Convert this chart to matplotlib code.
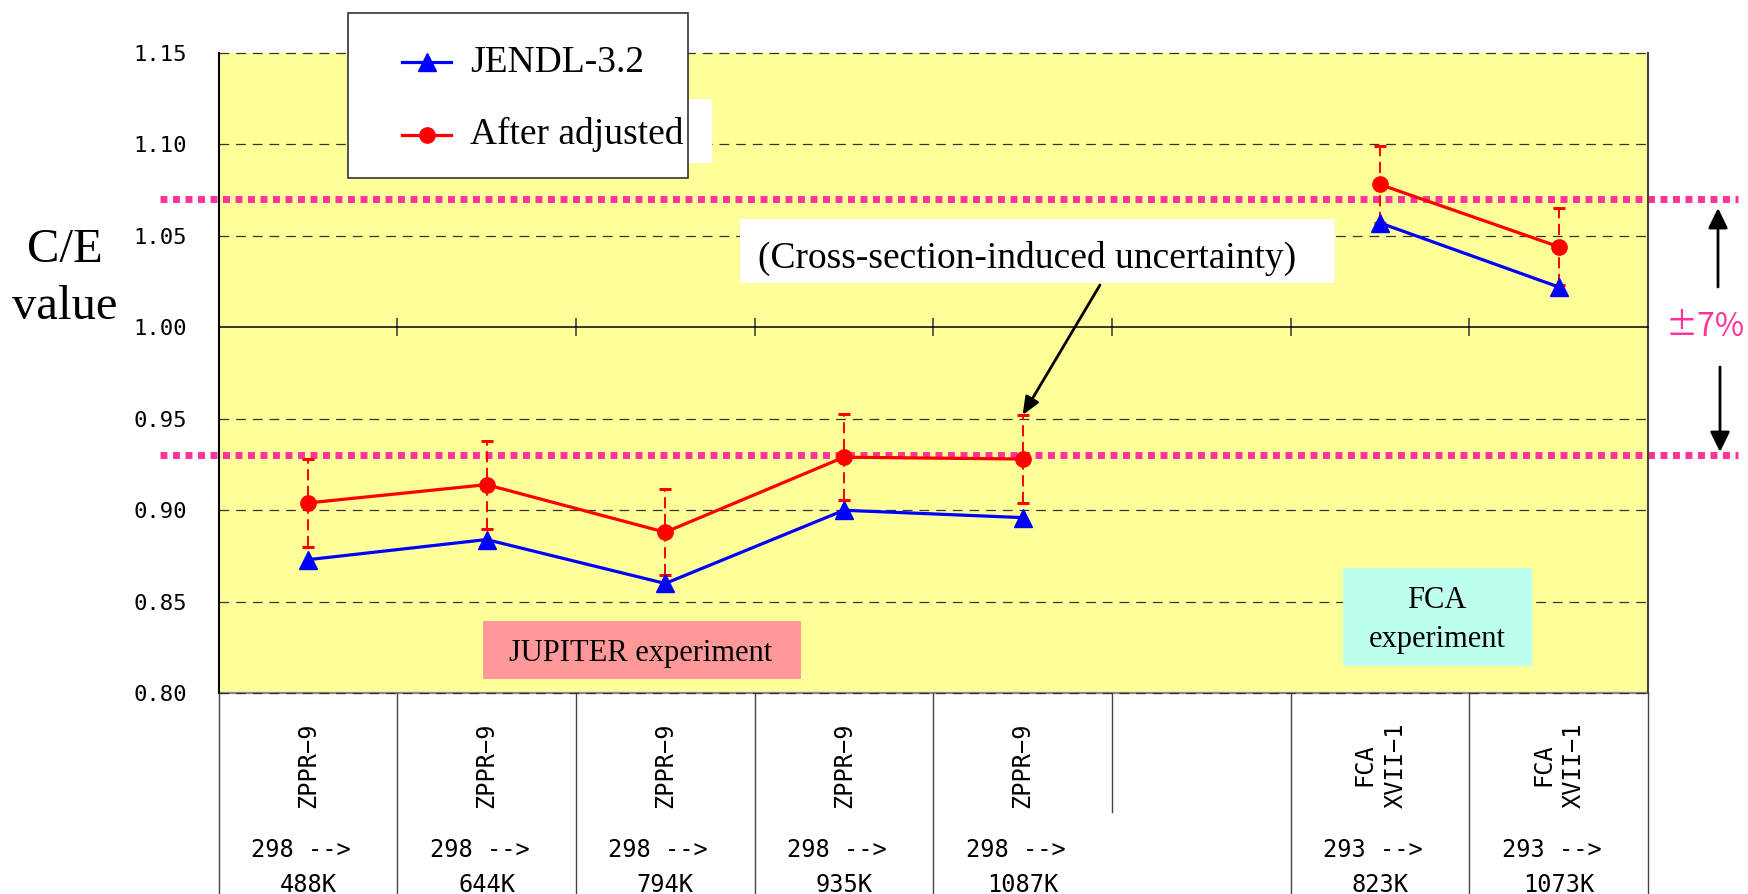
import numpy as np
import matplotlib
matplotlib.use("Agg")
import matplotlib.pyplot as plt
import matplotlib.transforms as mtransforms
import matplotlib.font_manager as fm
from matplotlib.patches import Rectangle
from matplotlib.lines import Line2D

plt.rcParams['lines.scale_dashes'] = False

# ---------------- data ----------------
categories = ["ZPPR−9", "ZPPR−9", "ZPPR−9", "ZPPR−9", "ZPPR−9", "",
              "FCA\nXVII−1", "FCA\nXVII−1"]
temperatures = ["298 -->\n488K", "298 -->\n644K", "298 -->\n794K", "298 -->\n935K",
                "298 -->\n1087K", "", "293 -->\n823K", "293 -->\n1073K"]
jendl32 = [0.873, 0.884, 0.860, 0.900, 0.896, np.nan, 1.057, 1.022]
after_adjusted = [0.904, 0.914, 0.888, 0.929, 0.928, np.nan, 1.078, 1.044]
xs_uncertainty = [0.024, 0.024, 0.0235, 0.0235, 0.024, np.nan, 0.021, 0.021]
band_levels = [1.07, 0.93]
ytick_values = [0.80, 0.85, 0.90, 0.95, 1.00, 1.05, 1.10, 1.15]
ytick_labels = ["0.80", "0.85", "0.90", "0.95", "1.00", "1.05", "1.10", "1.15"]
series_names = ["JENDL-3.2", "After adjusted"]

# ---------------- fonts ----------------
names = {f.name for f in fm.fontManager.ttflist}
SERIF = "Liberation Serif" if "Liberation Serif" in names else "DejaVu Serif"
if "Liberation Sans Narrow" in names:
    NARROW, NSIZE = "Liberation Sans Narrow", 21
else:
    NARROW, NSIZE = "DejaVu Sans Mono", 17
MONO = "DejaVu Sans Mono"
CJK = ["Noto Sans CJK JP", "DejaVu Sans"]

W, H = 1748, 894
def fx(x):
    return x / W
def fy(y):
    return 1 - y / H

fig = plt.figure(figsize=(W / 100, H / 100), dpi=100)
ax = fig.add_axes([fx(218.5), fy(693.3), (1648 - 218.5) / W, (693.3 - 52.7) / H])
ax.set_facecolor("#FFFF99")
ax.set_xlim(-0.5, len(categories) - 0.5)
ax.set_ylim(0.80, 1.15)

# grid lines
for v in ytick_values:
    if abs(v - 1.0) < 1e-9:
        continue
    if abs(v - 0.80) < 1e-9:
        ax.axhline(v, color="#888888", lw=1.6, zorder=1, clip_on=False)
    ax.axhline(v, color="#333333", lw=0.9, dashes=(7, 5), zorder=1, clip_on=False)

# spines
ax.spines["top"].set_visible(False)
ax.spines["bottom"].set_position(("data", 1.0))
ax.spines["bottom"].set_linewidth(1.1)
ax.spines["left"].set_linewidth(1.5)
ax.spines["right"].set_color("#444444")
ax.spines["right"].set_linewidth(1.5)

xb = np.arange(len(categories) + 1) - 0.5
ax.set_xticks(xb[1:-1])
ax.tick_params(axis="x", direction="inout", length=13, width=1.2, color="#444444",
               labelbottom=False)
ax.set_yticks(ytick_values)
ax.set_yticklabels(ytick_labels, fontfamily=MONO, fontsize=16)
ax.tick_params(axis="y", length=0, pad=22.5)

# +-7% band lines
bt = mtransforms.blended_transform_factory(fig.transFigure, ax.transData)
for lv in band_levels:
    ax.plot([fx(160), fx(1738)], [lv, lv], transform=bt, color="#FF3399", lw=5,
            dashes=(5.0, 4.0), solid_capstyle="butt", dash_capstyle="butt",
            clip_on=False, zorder=2, scalex=False, scaley=False)

x = np.arange(len(categories))
eb = ax.errorbar(x, after_adjusted, yerr=xs_uncertainty, fmt="none", ecolor="#FF0000",
                 elinewidth=1.4, capsize=4, capthick=2.2, zorder=3)
eb.lines[2][0].set_linestyle((0, (8, 4)))
ax.plot(x, jendl32, color="#0000FF", lw=2.3, marker="^", ms=13, zorder=4)
ax.plot(x, after_adjusted, color="#FF0000", lw=2.3, marker="o", ms=11, zorder=5)

# annotation arrow
ax.annotate("", xy=(4, after_adjusted[4] + xs_uncertainty[4]),
            xytext=(fx(1100), fy(285)), textcoords="figure fraction",
            arrowprops=dict(arrowstyle="-|>,head_length=0.6,head_width=0.25",
                            mutation_scale=18, lw=2, color="black",
                            shrinkA=0, shrinkB=0), zorder=6)

# category table below
tb = mtransforms.blended_transform_factory(ax.transData, fig.transFigure)
for k, xv in enumerate(xb):
    ybot = fy(812) if k == 5 else fy(896)
    fig.add_artist(Line2D([xv, xv], [fy(693.3), ybot], transform=tb, color="#444444", lw=1.0))
for i, (cat, tmp) in enumerate(zip(categories, temperatures)):
    if cat:
        lines = cat.split("\n")
        n = len(lines)
        for j, ln in enumerate(lines):
            off = (j - (n - 1) / 2) * 31 / 178.7
            fig.text(i + off, fy(765), ln, transform=tb, rotation=90, ha="center",
                     va="center", fontfamily=NARROW, fontsize=NSIZE)
    if tmp:
        l1, l2 = tmp.split("\n")
        fig.text(i - 0.04, fy(857), l1, transform=tb, ha="center", va="baseline",
                 fontfamily=NARROW, fontsize=NSIZE)
        fig.text(i, fy(892), l2, transform=tb, ha="center", va="baseline",
                 fontfamily=NARROW, fontsize=NSIZE)

# y label
fig.text(fx(65), fy(262), "C/E", ha="center", va="baseline", fontfamily=SERIF, fontsize=35)
fig.text(fx(65), fy(319), "value", ha="center", va="baseline", fontfamily=SERIF, fontsize=35)

# legend (drawn manually)
fig.add_artist(Rectangle((fx(688), fy(163)), 24 / W, 64 / H, transform=fig.transFigure,
                         facecolor="white", edgecolor="none", zorder=2.5))
fig.add_artist(Rectangle((fx(347.7), fy(178)), 340.3 / W, 164.7 / H, transform=fig.transFigure,
                         facecolor="white", edgecolor="#333333", lw=1.2, zorder=3))
leg_style = [("#0000FF", "^", 13, 61.7, 71.7), ("#FF0000", "o", 11, 135, 144)]
for name, (col, mk, ms, ly, by) in zip(series_names, leg_style):
    fig.add_artist(Line2D([fx(402), fx(451)], [fy(ly), fy(ly)], transform=fig.transFigure,
                          color=col, lw=2.3, zorder=4))
    fig.add_artist(Line2D([fx(426.7)], [fy(ly)], transform=fig.transFigure, color=col,
                          marker=mk, ms=ms, zorder=4.1))
    fig.text(fx(470), fy(by), name, ha="left", va="baseline", fontfamily=SERIF,
             fontsize=27, zorder=4)

# annotation box
fig.add_artist(Rectangle((fx(740), fy(283)), 595 / W, 64 / H, transform=fig.transFigure,
                         facecolor="white", edgecolor="none", zorder=2))
fig.text(fx(1027), fy(268), "(Cross-section-induced uncertainty)", ha="center",
         va="baseline", fontfamily=SERIF, fontsize=27, zorder=3)

# experiment labels
fig.add_artist(Rectangle((fx(482.7), fy(679)), (801 - 482.7) / W, 58 / H,
                         transform=fig.transFigure, facecolor="#FF9999", edgecolor="none", zorder=2))
fig.text(fx(641), fy(661), "JUPITER experiment", ha="center", va="baseline",
         fontfamily=SERIF, fontsize=22, zorder=3)
fig.add_artist(Rectangle((fx(1343), fy(666)), (1532 - 1343) / W, 98 / H,
                         transform=fig.transFigure, facecolor="#BFFFEF", edgecolor="none", zorder=2))
fig.text(fx(1437), fy(608), "FCA", ha="center", va="baseline", fontfamily=SERIF,
         fontsize=22, zorder=3)
fig.text(fx(1437), fy(646.5), "experiment", ha="center", va="baseline", fontfamily=SERIF,
         fontsize=22, zorder=3)

# +-7% marker on the right
for tail, tip in [((1718, 287), (1718, 208)), ((1720, 367), (1720, 452))]:
    ax.annotate("", xy=(fx(tip[0]), fy(tip[1])), xycoords="figure fraction",
                xytext=(fx(tail[0]), fy(tail[1])), textcoords="figure fraction",
                arrowprops=dict(arrowstyle="-|>,head_length=0.45,head_width=0.22",
                                mutation_scale=27, lw=2, color="black",
                                shrinkA=0, shrinkB=0), annotation_clip=False)
fig.text(fx(1705), fy(327), "±7%", ha="center", va="center", family=CJK,
         fontsize=23, color="#FF3399")

fig.savefig("out.png", dpi=100)
